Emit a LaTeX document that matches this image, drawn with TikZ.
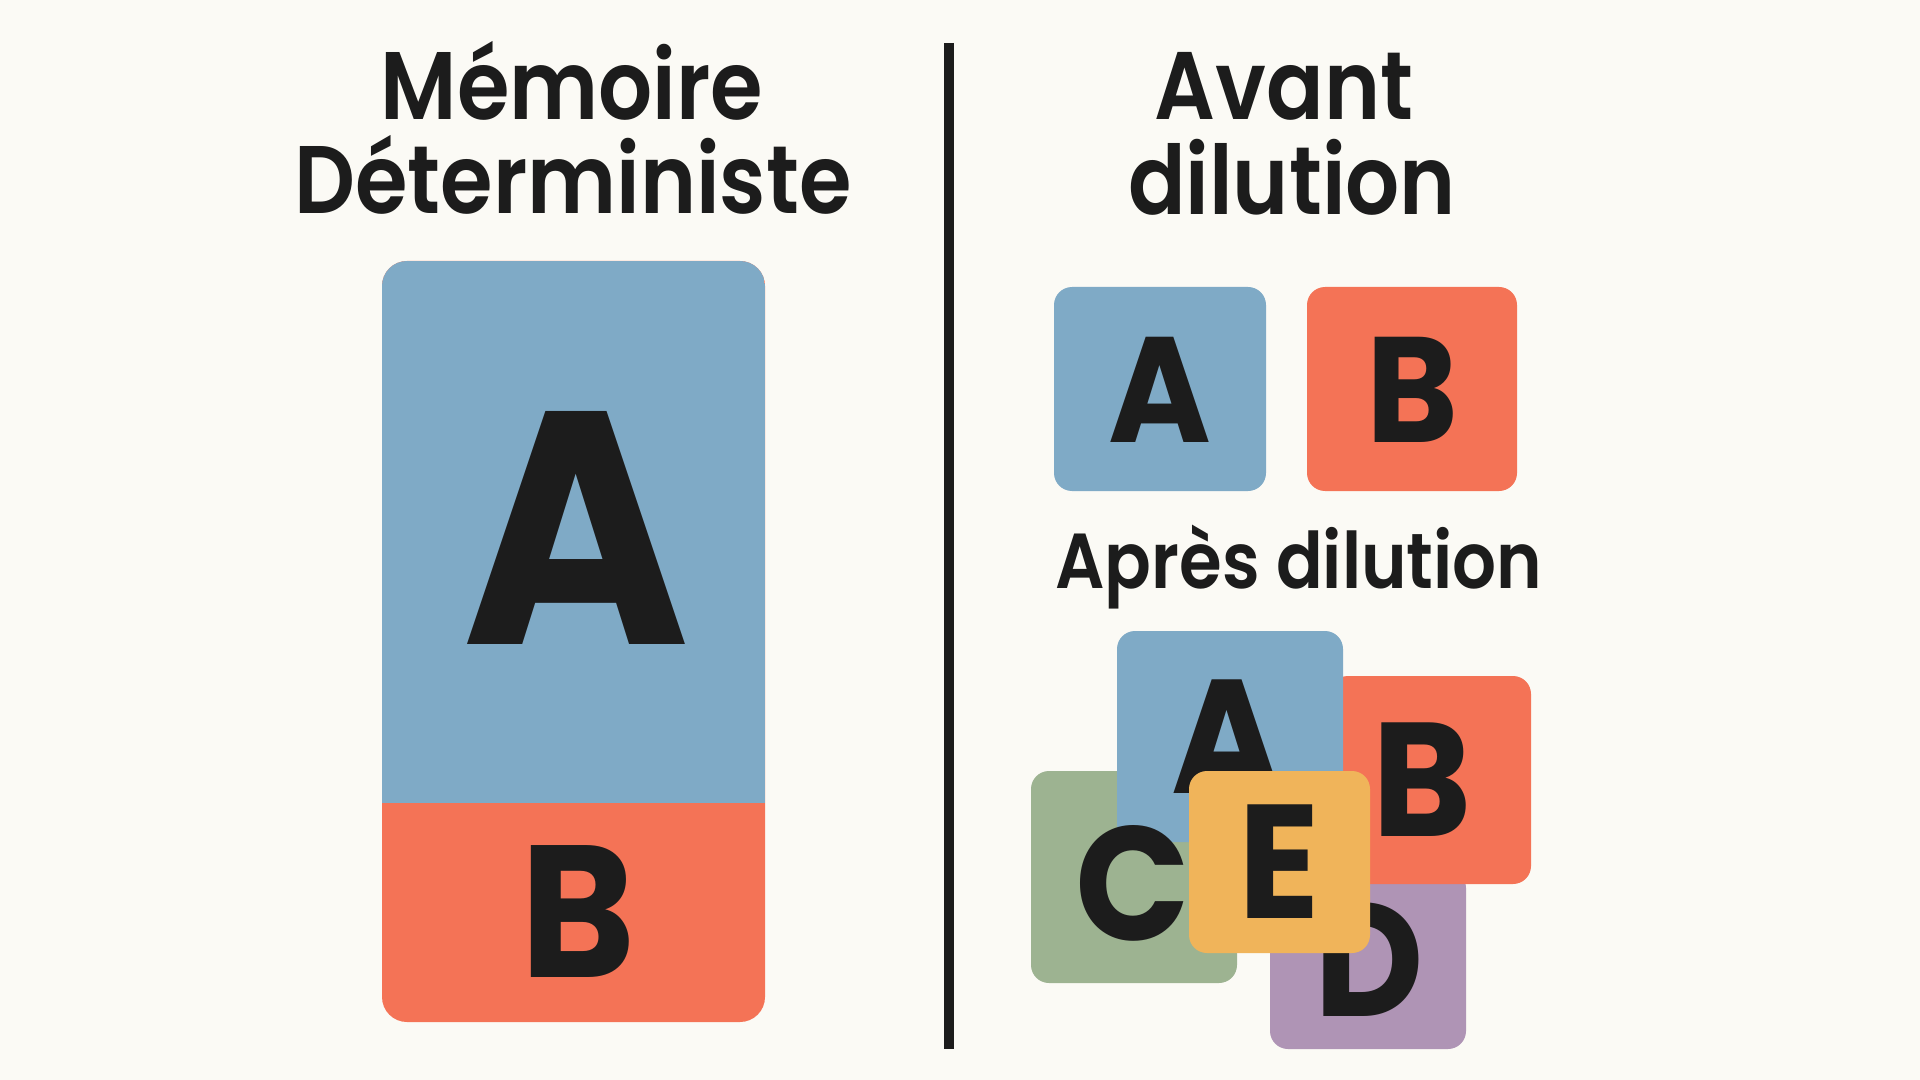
\documentclass[tikz,border=0pt]{standalone}
\usepackage{fontspec}
\setmainfont{Poppins}[UprightFont=* SemiBold, BoldFont=* Bold]
\definecolor{bg}{HTML}{FBFAF5}
\definecolor{ink}{HTML}{1C1C1C}
\definecolor{cA}{HTML}{7FAAC6}
\definecolor{cB}{HTML}{F47356}
\definecolor{cC}{HTML}{9DB391}
\definecolor{cD}{HTML}{AF94B5}
\definecolor{cE}{HTML}{F0B45A}
\newcommand\narrowtxt[1]{\scalebox{0.885}[1]{#1}}
\newcommand\narrowlet[1]{\scalebox{0.93}[1]{#1}}
\begin{document}
\begin{tikzpicture}[x=0.5pt,y=-0.5pt,
  title/.style={text=ink,anchor=base,inner sep=0pt,font=\fontsize{48}{50}\selectfont},
  letter/.style={text=ink,anchor=base,inner sep=0pt,font=\bfseries\fontsize{#1}{#1}\selectfont},
  card/.style={fill=#1,rounded corners=9pt}]
\useasboundingbox (0,0) rectangle (1920,1080);
\fill[bg] (0,0) rectangle (1920,1080);
% titles
\node[title] (t1) at (572,120) {\narrowtxt{Mémoire}};
\node[title] (t2) at (573,214) {\narrowtxt{Déterministe}};
\node[title] (t3) at (1284,120) {\narrowtxt{Avant}};
\node[title] (t4) at (1292,215) {\narrowtxt{dilution}};
% divider
\coordinate (dtop) at (949,43);
\coordinate (dbot) at (949,1049);
\draw[ink,line width=5pt] (dtop) -- (dbot);
% left stack
\fill[cB,rounded corners=12.5pt] (382,261) rectangle (765,1022);
\begin{scope}
\clip[rounded corners=12.5pt] (382,261) rectangle (765,1022);
\fill[cA] (382,261) rectangle (765,803);
\end{scope}
\node[letter=166] (bigA) at (576,644) {\narrowlet{A}};
\node[letter=94] (bigB) at (578,977) {\narrowlet{B}};
% before dilution
\fill[card=cA] (1054,287) rectangle (1266,491);
\fill[card=cB] (1307,287) rectangle (1517,491);
\node[letter=75] (sA) at (1160,442) {\narrowlet{A}};
\node[letter=75] (sB) at (1412,442) {\narrowlet{B}};
\node[title,font=\fontsize{39}{40}\selectfont] (t5) at (1299,588) {\narrowtxt{Après dilution}};
% after dilution cluster
\fill[card=cC] (1031,771) rectangle (1237,983);
\fill[card=cD] (1270,870) rectangle (1466,1049);
\fill[card=cB] (1330,676) rectangle (1531,884);
\fill[card=cA] (1117,631) rectangle (1343,842);
\node[letter=81] (kC) at (1133,940) {\narrowlet{C}};
\node[letter=81] (kA) at (1227,793) {\narrowlet{A}};
\node[letter=81] (kB) at (1422,836) {\narrowlet{B}};
\node[letter=81] (kD) at (1369,1016) {\narrowlet{D}};
\fill[card=cE] (1189,771) rectangle (1370,953);
\node[letter=81] (kE) at (1279,918) {\narrowlet{E}};
\end{tikzpicture}
\end{document}
